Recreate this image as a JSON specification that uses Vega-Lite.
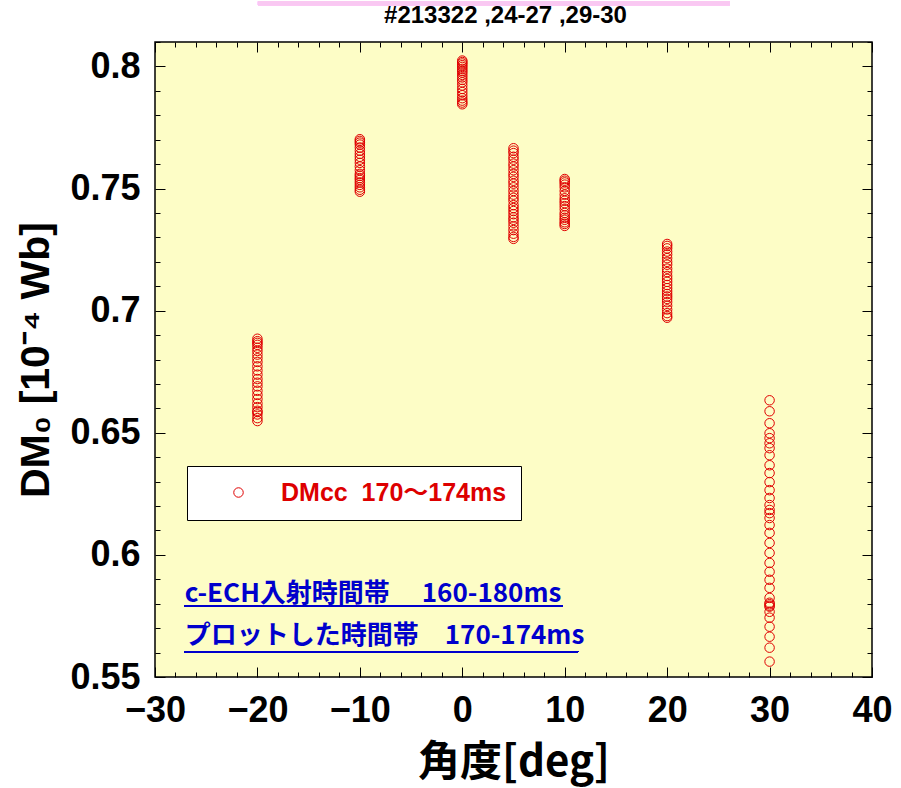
{
  "$schema": "https://vega.github.io/schema/vega-lite/v6.json",
  "width": 717,
  "height": 635,
  "autosize": {"type": "none"},
  "padding": {"left": 155, "top": 42, "right": 29, "bottom": 111},
  "background": "white",
  "title": {
    "text": "#213322 ,24-27 ,29-30",
    "font": "Liberation Sans",
    "fontSize": 24,
    "fontWeight": "bold",
    "color": "black",
    "anchor": "middle",
    "baseline": "alphabetic",
    "offset": 0,
    "dy": 46,
    "dx": -8
  },
  "config": {
    "view": {"fill": "#fdfdc6", "stroke": "black", "strokeWidth": 1.5},
    "axis": {"grid": false, "domain": false, "tickColor": "black", "tickWidth": 1}
  },
  "data": {
    "values": [
      {"angle": -20, "dm": 0.6885}, {"angle": -20, "dm": 0.6875}, {"angle": -20, "dm": 0.6868}, {"angle": -20, "dm": 0.686},
      {"angle": -20, "dm": 0.6848}, {"angle": -20, "dm": 0.6835}, {"angle": -20, "dm": 0.682}, {"angle": -20, "dm": 0.6805},
      {"angle": -20, "dm": 0.679}, {"angle": -20, "dm": 0.6772}, {"angle": -20, "dm": 0.6755}, {"angle": -20, "dm": 0.6738},
      {"angle": -20, "dm": 0.672}, {"angle": -20, "dm": 0.6705}, {"angle": -20, "dm": 0.669}, {"angle": -20, "dm": 0.6672},
      {"angle": -20, "dm": 0.6655}, {"angle": -20, "dm": 0.6638}, {"angle": -20, "dm": 0.662}, {"angle": -20, "dm": 0.6605},
      {"angle": -20, "dm": 0.659}, {"angle": -20, "dm": 0.6585}, {"angle": -20, "dm": 0.6575}, {"angle": -20, "dm": 0.656},
      {"angle": -20, "dm": 0.6548},
      {"angle": -10, "dm": 0.7702}, {"angle": -10, "dm": 0.7695}, {"angle": -10, "dm": 0.7688}, {"angle": -10, "dm": 0.768},
      {"angle": -10, "dm": 0.7668}, {"angle": -10, "dm": 0.7655}, {"angle": -10, "dm": 0.7642}, {"angle": -10, "dm": 0.763},
      {"angle": -10, "dm": 0.7618}, {"angle": -10, "dm": 0.7605}, {"angle": -10, "dm": 0.759}, {"angle": -10, "dm": 0.7575},
      {"angle": -10, "dm": 0.756}, {"angle": -10, "dm": 0.7552}, {"angle": -10, "dm": 0.7543}, {"angle": -10, "dm": 0.7535},
      {"angle": -10, "dm": 0.7525}, {"angle": -10, "dm": 0.7515}, {"angle": -10, "dm": 0.7505}, {"angle": -10, "dm": 0.7495},
      {"angle": -10, "dm": 0.7487},
      {"angle": 0, "dm": 0.8024}, {"angle": 0, "dm": 0.8018}, {"angle": 0, "dm": 0.8012}, {"angle": 0, "dm": 0.8005},
      {"angle": 0, "dm": 0.7998}, {"angle": 0, "dm": 0.799}, {"angle": 0, "dm": 0.7982}, {"angle": 0, "dm": 0.7975},
      {"angle": 0, "dm": 0.7965}, {"angle": 0, "dm": 0.7955}, {"angle": 0, "dm": 0.7945}, {"angle": 0, "dm": 0.7935},
      {"angle": 0, "dm": 0.7922}, {"angle": 0, "dm": 0.7908}, {"angle": 0, "dm": 0.7895}, {"angle": 0, "dm": 0.7882},
      {"angle": 0, "dm": 0.787}, {"angle": 0, "dm": 0.786}, {"angle": 0, "dm": 0.7852}, {"angle": 0, "dm": 0.7845},
      {"angle": 5, "dm": 0.7665}, {"angle": 5, "dm": 0.7655}, {"angle": 5, "dm": 0.7645}, {"angle": 5, "dm": 0.763},
      {"angle": 5, "dm": 0.7618}, {"angle": 5, "dm": 0.7602}, {"angle": 5, "dm": 0.759}, {"angle": 5, "dm": 0.7575},
      {"angle": 5, "dm": 0.756}, {"angle": 5, "dm": 0.7548}, {"angle": 5, "dm": 0.7532}, {"angle": 5, "dm": 0.752},
      {"angle": 5, "dm": 0.7505}, {"angle": 5, "dm": 0.749}, {"angle": 5, "dm": 0.7475}, {"angle": 5, "dm": 0.7462},
      {"angle": 5, "dm": 0.745}, {"angle": 5, "dm": 0.7432}, {"angle": 5, "dm": 0.742}, {"angle": 5, "dm": 0.7408},
      {"angle": 5, "dm": 0.7395}, {"angle": 5, "dm": 0.7382}, {"angle": 5, "dm": 0.7372}, {"angle": 5, "dm": 0.736},
      {"angle": 5, "dm": 0.7345}, {"angle": 5, "dm": 0.733}, {"angle": 5, "dm": 0.7315}, {"angle": 5, "dm": 0.7302},
      {"angle": 5, "dm": 0.7294},
      {"angle": 10, "dm": 0.7539}, {"angle": 10, "dm": 0.7532}, {"angle": 10, "dm": 0.7525}, {"angle": 10, "dm": 0.7516},
      {"angle": 10, "dm": 0.7505}, {"angle": 10, "dm": 0.749}, {"angle": 10, "dm": 0.7475}, {"angle": 10, "dm": 0.746},
      {"angle": 10, "dm": 0.745}, {"angle": 10, "dm": 0.744}, {"angle": 10, "dm": 0.7428}, {"angle": 10, "dm": 0.7415},
      {"angle": 10, "dm": 0.74}, {"angle": 10, "dm": 0.739}, {"angle": 10, "dm": 0.738}, {"angle": 10, "dm": 0.7372},
      {"angle": 10, "dm": 0.7362}, {"angle": 10, "dm": 0.7355}, {"angle": 10, "dm": 0.7347},
      {"angle": 20, "dm": 0.7273}, {"angle": 20, "dm": 0.7265}, {"angle": 20, "dm": 0.7255}, {"angle": 20, "dm": 0.7242},
      {"angle": 20, "dm": 0.723}, {"angle": 20, "dm": 0.7215}, {"angle": 20, "dm": 0.72}, {"angle": 20, "dm": 0.7188},
      {"angle": 20, "dm": 0.7172}, {"angle": 20, "dm": 0.7158}, {"angle": 20, "dm": 0.7142}, {"angle": 20, "dm": 0.713},
      {"angle": 20, "dm": 0.7118}, {"angle": 20, "dm": 0.7105}, {"angle": 20, "dm": 0.7092}, {"angle": 20, "dm": 0.708},
      {"angle": 20, "dm": 0.7068}, {"angle": 20, "dm": 0.7058}, {"angle": 20, "dm": 0.7048}, {"angle": 20, "dm": 0.7035},
      {"angle": 20, "dm": 0.702}, {"angle": 20, "dm": 0.7005}, {"angle": 20, "dm": 0.699}, {"angle": 20, "dm": 0.6978},
      {"angle": 20, "dm": 0.6971},
      {"angle": 30, "dm": 0.6633}, {"angle": 30, "dm": 0.6588}, {"angle": 30, "dm": 0.6539}, {"angle": 30, "dm": 0.6498},
      {"angle": 30, "dm": 0.6478}, {"angle": 30, "dm": 0.6457}, {"angle": 30, "dm": 0.6437}, {"angle": 30, "dm": 0.6408},
      {"angle": 30, "dm": 0.6367}, {"angle": 30, "dm": 0.6335}, {"angle": 30, "dm": 0.6298}, {"angle": 30, "dm": 0.6265},
      {"angle": 30, "dm": 0.6233}, {"angle": 30, "dm": 0.6204}, {"angle": 30, "dm": 0.6184}, {"angle": 30, "dm": 0.6171},
      {"angle": 30, "dm": 0.6151}, {"angle": 30, "dm": 0.6122}, {"angle": 30, "dm": 0.609}, {"angle": 30, "dm": 0.6049},
      {"angle": 30, "dm": 0.6008}, {"angle": 30, "dm": 0.5967}, {"angle": 30, "dm": 0.5931}, {"angle": 30, "dm": 0.5898},
      {"angle": 30, "dm": 0.5865}, {"angle": 30, "dm": 0.5824}, {"angle": 30, "dm": 0.5804}, {"angle": 30, "dm": 0.5798},
      {"angle": 30, "dm": 0.5792}, {"angle": 30, "dm": 0.5788}, {"angle": 30, "dm": 0.5767}, {"angle": 30, "dm": 0.5743},
      {"angle": 30, "dm": 0.5706}, {"angle": 30, "dm": 0.5665}, {"angle": 30, "dm": 0.562}, {"angle": 30, "dm": 0.5563}
    ]
  },
  "layer": [
    {
      "mark": {"type": "point", "shape": "circle", "filled": false, "size": 90, "strokeWidth": 1, "opacity": 1},
      "encoding": {
        "x": {
          "field": "angle", "type": "quantitative",
          "scale": {"domain": [-30, 40], "nice": false, "zero": false},
          "axis": {
            "orient": "bottom", "values": [-30, -20, -10, 0, 10, 20, 30, 40], "tickSize": -10,
            "labelFont": "Liberation Sans", "labelFontWeight": "bold", "labelFontSize": 36,
            "labelColor": "black", "labelPadding": 26, "labelFlush": false, "labelOverlap": false,
            "title": "角度[deg]", "titleFont": "Noto Sans CJK JP", "titleFontSize": 42,
            "titleFontWeight": "bold", "titleColor": "black", "titlePadding": 14
          }
        },
        "y": {
          "field": "dm", "type": "quantitative",
          "scale": {"domain": [0.55, 0.81], "nice": false, "zero": false},
          "axis": {
            "orient": "left", "values": [0.55, 0.6, 0.65, 0.7, 0.75, 0.8], "format": "~g", "tickSize": -10,
            "labelFont": "Liberation Sans", "labelFontWeight": "bold", "labelFontSize": 36,
            "labelColor": "black", "labelPadding": 25, "labelFlush": false, "labelOverlap": false,
            "title": "DM₀ [10⁻⁴ Wb]", "titleFont": "Liberation Sans", "titleFontSize": 41,
            "titleFontWeight": "bold", "titleColor": "black", "titlePadding": 12
          }
        },
        "color": {
          "datum": "DMcc  170～174ms",
          "scale": {"range": ["#e00000"]},
          "legend": {
            "title": null, "orient": "none", "legendX": 32, "legendY": 424,
            "fillColor": "white", "strokeColor": "black", "padding": 14,
            "symbolType": "circle", "symbolFillColor": "transparent", "symbolStrokeColor": "#e00000",
            "symbolSize": 90, "symbolStrokeWidth": 1, "symbolOffset": 25, "labelOffset": 30,
            "labelExpr": "'DMcc\u00a0\u00a0170～174ms'",
            "labelFont": "Liberation Sans, Noto Sans CJK JP", "labelFontSize": 25, "labelFontWeight": "bold",
            "labelColor": "#dd0000", "labelLimit": 400
          }
        }
      }
    },
    {
      "mark": {"type": "point", "opacity": 0},
      "encoding": {
        "x": {"field": "angle", "type": "quantitative",
          "axis": {"orient": "top", "values": [-30, -20, -10, 0, 10, 20, 30, 40], "tickSize": -10, "labels": false, "title": null}},
        "y": {"field": "dm", "type": "quantitative",
          "axis": {"orient": "right", "values": [0.55, 0.6, 0.65, 0.7, 0.75, 0.8], "tickSize": -10, "labels": false, "title": null}}
      }
    },
    {
      "mark": {"type": "point", "opacity": 0},
      "encoding": {
        "x": {"field": "angle", "type": "quantitative",
          "axis": {"orient": "bottom", "values": [-28, -26, -24, -22, -18, -16, -14, -12, -8, -6, -4, -2, 2, 4, 6, 8, 12, 14, 16, 18, 22, 24, 26, 28, 32, 34, 36, 38], "tickSize": -5, "labels": false, "title": null}},
        "y": {"field": "dm", "type": "quantitative",
          "axis": {"orient": "left", "values": [0.56, 0.57, 0.58, 0.59, 0.61, 0.62, 0.63, 0.64, 0.66, 0.67, 0.68, 0.69, 0.71, 0.72, 0.73, 0.74, 0.76, 0.77, 0.78, 0.79, 0.81], "tickSize": -5, "labels": false, "title": null}}
      }
    },
    {
      "mark": {"type": "point", "opacity": 0},
      "encoding": {
        "x": {"field": "angle", "type": "quantitative",
          "axis": {"orient": "top", "values": [-28, -26, -24, -22, -18, -16, -14, -12, -8, -6, -4, -2, 2, 4, 6, 8, 12, 14, 16, 18, 22, 24, 26, 28, 32, 34, 36, 38], "tickSize": -5, "labels": false, "title": null}},
        "y": {"field": "dm", "type": "quantitative",
          "axis": {"orient": "right", "values": [0.56, 0.57, 0.58, 0.59, 0.61, 0.62, 0.63, 0.64, 0.66, 0.67, 0.68, 0.69, 0.71, 0.72, 0.73, 0.74, 0.76, 0.77, 0.78, 0.79, 0.81], "tickSize": -5, "labels": false, "title": null}}
      }
    },
    {
      "data": {"values": [{"note": "c-ECH入射時間帯　\u00a0160-180ms"}]},
      "mark": {"type": "text", "align": "left", "baseline": "alphabetic", "font": "Noto Sans CJK JP", "fontSize": 26, "fontWeight": "bold", "color": "#0000cc"},
      "encoding": {"x": {"datum": -27.1, "axis": null}, "y": {"datum": 0.5808, "axis": null}, "text": {"field": "note"}}
    },
    {
      "data": {"values": [{"note": "プロットした時間帯　170-174ms"}]},
      "mark": {"type": "text", "align": "left", "baseline": "alphabetic", "font": "Noto Sans CJK JP", "fontSize": 26, "fontWeight": "bold", "color": "#0000cc"},
      "encoding": {"x": {"datum": -27.1, "axis": null}, "y": {"datum": 0.5636, "axis": null}, "text": {"field": "note"}}
    },
    {
      "mark": {"type": "rule", "color": "#0000cc", "strokeWidth": 1.5},
      "encoding": {"x": {"datum": -27.1, "axis": null}, "x2": {"datum": 9.8}, "y": {"datum": 0.5791, "axis": null}}
    },
    {
      "mark": {"type": "rule", "color": "#0000cc", "strokeWidth": 1.5},
      "encoding": {"x": {"datum": -27.1, "axis": null}, "x2": {"datum": 11.3}, "y": {"datum": 0.5603, "axis": null}}
    },
    {
      "mark": {"type": "rect", "color": "#f9c8f2", "clip": false},
      "encoding": {"x": {"datum": -19.95, "axis": null}, "x2": {"datum": 26.1}, "y": {"datum": 0.8266, "axis": null}, "y2": {"datum": 0.825}}
    }
  ],
  "resolve": {"axis": {"x": "independent", "y": "independent"}}
}
